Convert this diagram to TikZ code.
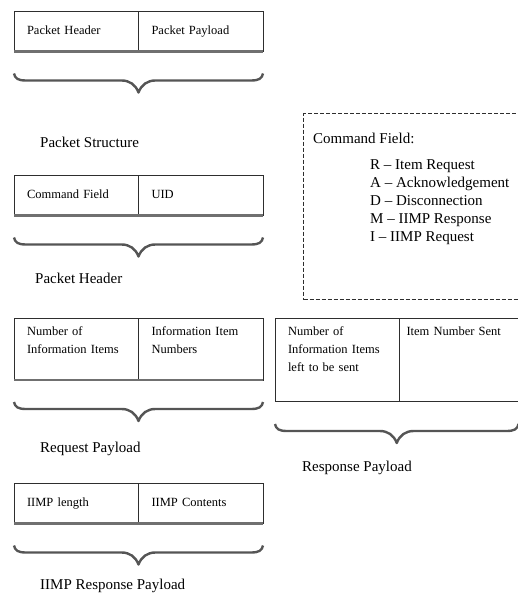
\documentclass[tikz,border=0pt]{standalone}
\usepackage{fontspec}
\setmainfont{Liberation Serif}
\usetikzlibrary{positioning, calc}
\definecolor{boxink}{HTML}{2E2E2E}
\definecolor{braceink}{HTML}{555555}
\definecolor{edgeink}{HTML}{707070}
\newcommand{\cellfont}{\fontsize{12.5}{18}\selectfont}
\newcommand{\capfont}{\fontsize{15}{18}\selectfont}
% flat curly brace under a record, tip in the middle
\newcommand{\curly}[2]{%
  \draw[brace] let \p1=(#1), \p2=(#2), \n1={0.5*(\x1+\x2)} in
    (\p1) .. controls (\x1+1pt,\y1-5pt) and (\x1+4pt,\y1-7pt) .. (\x1+12pt,\y1-7pt)
    -- (\n1-17pt,\y1-7pt) .. controls (\n1-9pt,\y1-7pt) and (\n1-3pt,\y1-11pt) .. (\n1,\y1-19pt)
    .. controls (\n1+3pt,\y1-11pt) and (\n1+9pt,\y1-7pt) .. (\n1+17pt,\y1-7pt)
    -- (\x2-12pt,\y1-7pt) .. controls (\x2-4pt,\y1-7pt) and (\x2-1pt,\y1-5pt) .. (\p2);}

\begin{document}
\begin{tikzpicture}[
  x=1pt, y=1pt,
  cell/.style={draw=boxink, line width=1pt, anchor=north west, outer sep=0pt, inner xsep=13pt, inner ysep=0pt,
    text width=98.5pt, align=left, minimum height=40pt, text height=9pt, text depth=3pt, font=\cellfont},
  tallcell/.style={cell, inner ysep=8pt, text depth=#1},
  ledge/.style={draw=edgeink, line width=2.2pt},
  brace/.style={draw=braceink, line width=2.4pt, line join=round},
  caption/.style={anchor=west, inner sep=0pt, font=\capfont},
  legend/.style={inner sep=0pt, align=left, font=\capfont},
  dashbox/.style={draw=boxink, line width=1.2pt, dash pattern=on 4pt off 2pt, anchor=north west}
]
\useasboundingbox (0,0) rectangle (517,-601);

% packet structure
\node[cell] (pkthdr) at (14,-11.5) {Packet Header};
\node[cell, right=0pt of pkthdr] (pktpay) {Packet Payload};
\draw[ledge] (pkthdr.south west) -- (pktpay.south east);
\curly{$(pkthdr.south west)+(0,-22)$}{$(pktpay.south east)+(0,-22)$}
\node[caption] (capstruct) at (40,-142) {Packet Structure};

% packet header
\node[cell] (cmdfield) at (14,-175.5) {Command Field};
\node[cell, right=0pt of cmdfield] (uid) {UID};
\draw[ledge] (cmdfield.south west) -- (uid.south east);
\curly{$(cmdfield.south west)+(0,-22)$}{$(uid.south east)+(0,-22)$}
\node[caption] (caphdr) at (35,-278) {Packet Header};

% request payload
\node[tallcell=37pt] (reqcount) at (14,-318) {Number of\\Information Items};
\node[tallcell=37pt, right=0pt of reqcount] (reqnums) {Information Item\\Numbers};
\draw[ledge] (reqcount.south west) -- (reqnums.south east);
\curly{$(reqcount.south west)+(0,-22)$}{$(reqnums.south east)+(0,-22)$}
\node[caption] (capreq) at (40,-449) {Request Payload};

% iimp response payload
\node[cell] (iimplen) at (14,-483.5) {IIMP length};
\node[cell, right=0pt of iimplen] (iimpbody) {IIMP Contents};
\draw[ledge] (iimplen.south west) -- (iimpbody.south east);
\curly{$(iimplen.south west)+(0,-22)$}{$(iimpbody.south east)+(0,-22)$}
\node[caption] (capiimp) at (40,-586) {IIMP Response Payload};

% command field legend
\node[dashbox, minimum width=232pt, minimum height=186pt] (cmdbox) at (303,-113) {};
\node[legend, below right=20pt and 10pt of cmdbox.north west] (cmdhead) {Command Field:};
\node[legend, below right=15pt and 57pt of cmdhead.south west] (cmdlist)
  {R – Item Request\\A – Acknowledgement\\D – Disconnection\\M – IIMP Response\\I – IIMP Request};

% response payload
\node[tallcell=58pt] (rescount) at (275,-318) {Number of\\Information Items\\left to be sent};
\node[tallcell=58pt, inner xsep=7pt, text width=111pt, right=0pt of rescount] (ressent) {Item Number Sent};
\curly{$(rescount.south west)+(0,-23)$}{$(ressent.south east)+(-6,-23)$}
\node[caption] (capres) at (302,-468) {Response Payload};
\end{tikzpicture}
\end{document}
